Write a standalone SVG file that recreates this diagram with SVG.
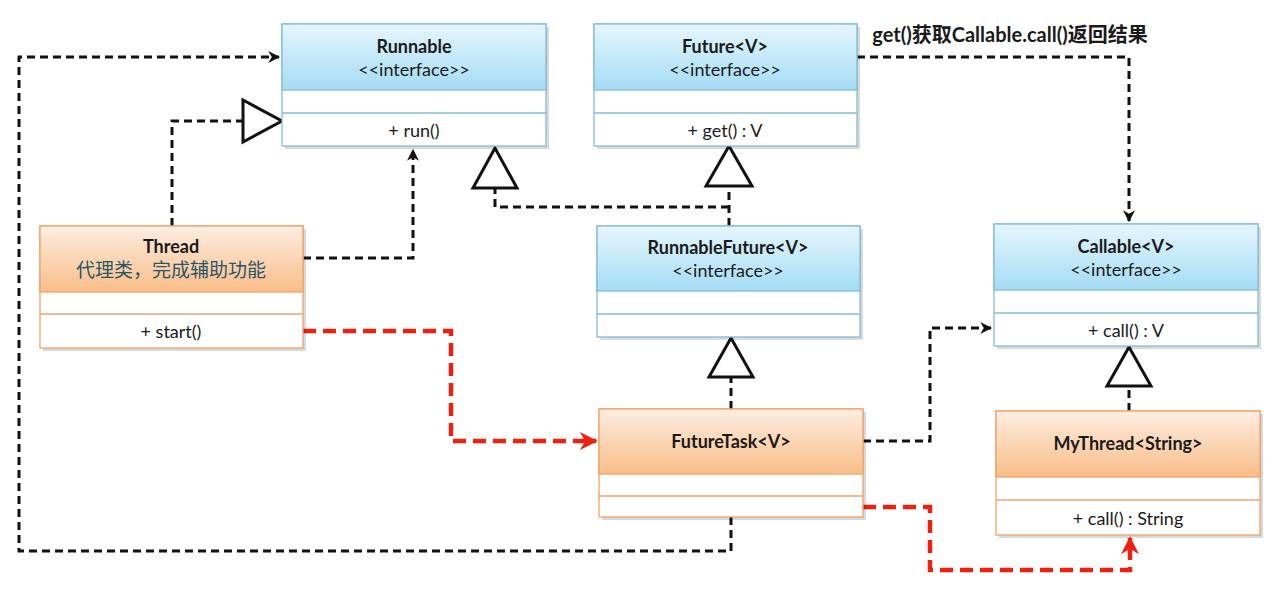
<svg xmlns="http://www.w3.org/2000/svg" width="1283" height="594" viewBox="0 0 1283 594">
<style>
.t{font-family:Lato,"Noto Sans CJK SC","Liberation Sans",sans-serif;font-size:18px;fill:#1a1a1a;text-anchor:middle}
.b{font-weight:bold}
.cn{fill:#2a5566;font-family:"Noto Sans CJK SC",sans-serif;font-size:19px}
.bx{stroke:#82bcd6;stroke-width:1.3}
.ox{stroke:#eea36a;stroke-width:1.3}
.sh{fill:#000;opacity:0.15}
.dk{fill:none;stroke:#111;stroke-width:3;stroke-dasharray:8 5}
.rd{fill:none;stroke:#f02010;stroke-width:4.5;stroke-dasharray:13 7}
.tri{fill:#fff;stroke:#111;stroke-width:3;stroke-linejoin:miter}
</style>
<defs>
<linearGradient id="gb" x1="0" y1="0" x2="0" y2="1"><stop offset="0" stop-color="#e6f6fd"/><stop offset="1" stop-color="#a3dcf5"/></linearGradient>
<linearGradient id="go" x1="0" y1="0" x2="0" y2="1"><stop offset="0" stop-color="#fdeee2"/><stop offset="1" stop-color="#f9bd88"/></linearGradient>
<marker id="ak" viewBox="0 0 10 10" refX="9" refY="5" markerWidth="4" markerHeight="4" orient="auto" markerUnits="strokeWidth"><path d="M0,0 L10,5 L0,10 L3,5 z" fill="#111"/></marker>
<marker id="ar" viewBox="0 0 10 10" refX="9" refY="5" markerWidth="4" markerHeight="4" orient="auto" markerUnits="strokeWidth"><path d="M0,0 L10,5 L0,10 L3,5 z" fill="#f02010"/></marker>
</defs>
<rect width="1283" height="594" fill="#fff"/>

<g id="connectors">
<path class="dk" d="M172,226 V121 H243"/>
<path class="dk" d="M303,258 H413 V150" marker-end="url(#ak)"/>
<path class="dk" d="M731,517 V551 H19 V57 H279" marker-end="url(#ak)"/>
<path class="dk" d="M729,226 V186 M729,207 H495 V189"/>
<path class="dk" d="M731,409 V377"/>
<path class="dk" d="M1129,411 V386"/>
<path class="dk" d="M863,441 H930 V328 H991" marker-end="url(#ak)"/>
<path class="dk" d="M857,57 H1129 V221" marker-end="url(#ak)"/>
<path class="rd" d="M303,331 H451 V441 H596" marker-end="url(#ar)"/>
<path class="rd" d="M863,507 H930 V570 H1130 V538" marker-end="url(#ar)"/>
<polygon class="tri" points="243,100 282,121 243,142"/>
<polygon class="tri" points="495,148 473,188 517,188"/>
<polygon class="tri" points="729,146 706,186 752,186"/>
<polygon class="tri" points="731,338 709,377 753,377"/>
<polygon class="tri" points="1129,347 1107,386 1151,386"/>
</g>

<text class="t b" x="1010" y="42" style="font-size:20px">get()获取Callable.call()返回结果</text>

<g id="runnable">
<rect class="sh" x="285" y="27" width="264" height="122"/>
<rect class="bx" x="282" y="24" width="264" height="122" fill="#fff"/>
<rect class="bx" x="282" y="24" width="264" height="66" fill="url(#gb)"/>
<line class="bx" x1="282" y1="113" x2="546" y2="113"/>
<text class="t b" x="414" y="53">Runnable</text>
<text class="t" x="414" y="76">&lt;&lt;interface&gt;&gt;</text>
<text class="t" x="414" y="137">+ run()</text>
</g>

<g id="future">
<rect class="sh" x="597" y="27" width="263" height="122"/>
<rect class="bx" x="594" y="24" width="263" height="122" fill="#fff"/>
<rect class="bx" x="594" y="24" width="263" height="66" fill="url(#gb)"/>
<line class="bx" x1="594" y1="113" x2="857" y2="113"/>
<text class="t b" x="725" y="53">Future&lt;V&gt;</text>
<text class="t" x="725" y="76">&lt;&lt;interface&gt;&gt;</text>
<text class="t" x="725" y="137">+ get() : V</text>
</g>

<g id="thread">
<rect class="sh" x="43" y="229" width="263" height="122"/>
<rect class="ox" x="40" y="226" width="263" height="122" fill="#fff"/>
<rect class="ox" x="40" y="226" width="263" height="66" fill="url(#go)"/>
<line class="ox" x1="40" y1="314" x2="303" y2="314"/>
<text class="t b" x="171" y="253">Thread</text>
<text class="t cn" x="171" y="277">代理类，完成辅助功能</text>
<text class="t" x="171" y="338">+ start()</text>
</g>

<g id="runnablefuture">
<rect class="sh" x="600" y="229" width="263" height="111"/>
<rect class="bx" x="597" y="226" width="263" height="111" fill="#fff"/>
<rect class="bx" x="597" y="226" width="263" height="65" fill="url(#gb)"/>
<line class="bx" x1="597" y1="314" x2="860" y2="314"/>
<text class="t b" x="728" y="254">RunnableFuture&lt;V&gt;</text>
<text class="t" x="728" y="277">&lt;&lt;interface&gt;&gt;</text>
</g>

<g id="callable">
<rect class="sh" x="997" y="227" width="264" height="122"/>
<rect class="bx" x="994" y="224" width="264" height="122" fill="#fff"/>
<rect class="bx" x="994" y="224" width="264" height="66" fill="url(#gb)"/>
<line class="bx" x1="994" y1="313" x2="1258" y2="313"/>
<text class="t b" x="1126" y="253">Callable&lt;V&gt;</text>
<text class="t" x="1126" y="276">&lt;&lt;interface&gt;&gt;</text>
<text class="t" x="1126" y="337">+ call() : V</text>
</g>

<g id="futuretask">
<rect class="sh" x="602" y="412" width="264" height="108"/>
<rect class="ox" x="599" y="409" width="264" height="108" fill="#fff"/>
<rect class="ox" x="599" y="409" width="264" height="65" fill="url(#go)"/>
<line class="ox" x1="599" y1="496" x2="863" y2="496"/>
<text class="t b" x="731" y="448">FutureTask&lt;V&gt;</text>
</g>

<g id="mythread">
<rect class="sh" x="999" y="414" width="264" height="124"/>
<rect class="ox" x="996" y="411" width="264" height="124" fill="#fff"/>
<rect class="ox" x="996" y="411" width="264" height="66" fill="url(#go)"/>
<line class="ox" x1="996" y1="500" x2="1260" y2="500"/>
<text class="t b" x="1128" y="450">MyThread&lt;String&gt;</text>
<text class="t" x="1128" y="525">+ call() : String</text>
</g>
</svg>
